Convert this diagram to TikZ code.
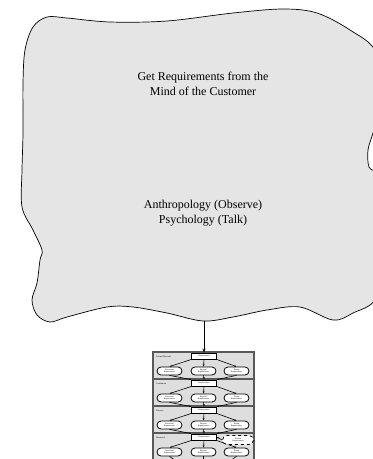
\documentclass[tikz,border=0pt]{standalone}
\usepackage{fontspec}
\setmainfont{Liberation Serif}
\usetikzlibrary{shapes.misc,arrows.meta}

\tikzset{
  cloudshape/.style={draw=black, line width=0.7pt, fill=black!10},
  bigtext/.style={font=\fontsize{12}{14.5}\selectfont, align=center, inner sep=0pt},
  band/.style={draw=black!65, line width=1.1pt, fill=black!13},
  tinytext/.style={font=\fontsize{2}{2.4}\selectfont, align=center},
  reqbox/.style={draw=black, line width=0.4pt, fill=white, minimum width=25pt, minimum height=6.5pt, inner sep=0pt, tinytext},
  kindoval/.style={rounded rectangle, draw=black, line width=0.8pt, fill=white, minimum width=25pt, minimum height=8pt, inner sep=0pt, tinytext},
  derivedoval/.style={rounded rectangle, draw=black, dashed, line width=0.8pt, fill=white, minimum width=31pt, minimum height=9pt, inner sep=0pt, tinytext},
  flow/.style={line width=0.6pt, -{Stealth[length=2.4pt,width=1.8pt]}},
  mainflow/.style={line width=0.6pt, -{Stealth[length=4pt,width=3pt]}},
  bandlabel/.style={font=\fontsize{2.2}{2.6}\selectfont, anchor=west, inner sep=0pt}
}

\begin{document}
\begin{tikzpicture}[x=1pt,y=-1pt]
\path[use as bounding box] (0,0) rectangle (373,459);
\begin{scope}
\clip (0,0) rectangle (373,459);

% the customer's mind
\draw[cloudshape] plot[smooth cycle, tension=0.55] coordinates {
  (25,50) (33,27) (47,17) (67,18) (110,22) (167,21) (233,13) (283,9)
  (317,13) (350,30) (376,52) (382,100) (373,133) (368,150) (369,167)
  (378,180) (382,250) (376,298) (353,313) (333,320) (300,307) (267,310)
  (233,317) (203,321) (167,313) (133,307) (107,307) (67,317) (50,322)
  (37,315) (32,300) (37,283) (40,260) (42,250) (33,230) (22,207)
  (22,170) (23,133) (23,83)};
\coordinate (mindbottom) at (204,321);

\node[bigtext] (goal) at (203,84) {Get Requirements from the\\Mind of the Customer};
\node[bigtext] (methods) at (203,213) {Anthropology (Observe)\\Psychology (Talk)};

% stack of requirement levels
\foreach \i/\lab in {0/{Textual/Informal}, 1/Continuous, 2/Discrete, 3/Measured} {
  \pgfmathsetmacro{\t}{352+27*\i}
  \pgfmathsetmacro{\b}{\i==3 ? 470 : \t+27}
  \draw[band] (153,\t) rectangle (254,\b);
  \node[bandlabel] (lab\i) at (156,\t+5) {\lab};
  \node[reqbox] (req\i) at (204,\t+4) {Requirements};
  \node[kindoval] (fun\i) at (169.5,\t+19) {Functional\\Requirements};
  \node[kindoval] (phy\i) at (203.5,\t+19) {Physical\\Requirements};
  \node[kindoval] (tim\i) at (236.5,\t+19) {Timing\\Requirements};
  \draw[flow] (req\i.south west) -- (fun\i.north);
  \draw[flow] (req\i.south) -- (phy\i.north);
  \draw[flow] (req\i.south east) -- (tim\i.north);
}

% links from one level to the next
\foreach \i/\j in {0/1, 1/2, 2/3} {
  \draw[flow] (fun\i.south) -- (req\j.north west);
  \draw[flow] (phy\i.south) -- (req\j.north);
  \draw[flow] (tim\i.south) -- (req\j.north east);
}

% open ends below the last level
\coordinate (outfun) at (190,470);
\coordinate (outphy) at (203.5,470);
\coordinate (outtim) at (217,470);
\draw[flow] (fun3.south) -- (outfun);
\draw[flow] (phy3.south) -- (outphy);
\draw[flow] (tim3.south) -- (outtim);

% derived requirements at the measured level
\node[derivedoval] (derived) at (238,440) {Derived\\Requirements};
\draw[flow] (derived.west) -- (req3.east);

% from the mind down into the stack
\draw[mainflow] (mindbottom) -- (req0.north);
\end{scope}
\end{tikzpicture}
\end{document}
